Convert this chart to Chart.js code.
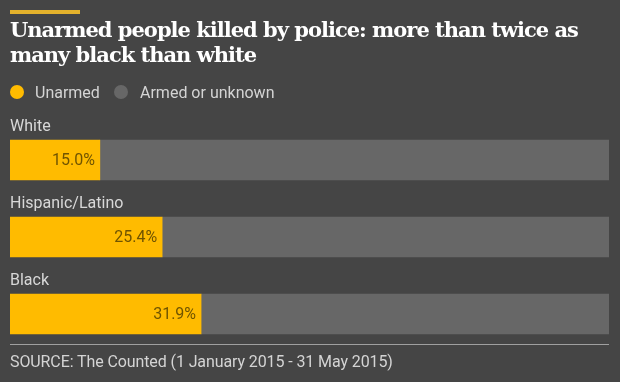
<!DOCTYPE html>
<html>
<head>
<meta charset="utf-8">
<script src="https://cdn.jsdelivr.net/npm/chart.js@4/dist/chart.umd.min.js"></script>
<style>
  html, body { margin: 0; padding: 0; }
  body { width: 620px; height: 382px; background: #454545; position: relative; overflow: hidden; font-family: Roboto, "Open Sans", sans-serif; }
  #accent { position: absolute; left: 10px; top: 10px; width: 70px; height: 4px; background: #e4b22c; }
  #title { position: absolute; left: 10px; top: 17px; width: 610px; font: bold 21px "DejaVu Serif", serif; letter-spacing: -1px; line-height: 25px; color: #ffffff; white-space: nowrap; }
  .dot { position: absolute; top: 85px; width: 14px; height: 14px; border-radius: 50%; }
  .leg { position: absolute; top: 83px; font-size: 16px; line-height: 20px; color: #d4d4d4; white-space: nowrap; }
  #rule { position: absolute; left: 10px; top: 344px; width: 599px; height: 1px; background: #a0a0a0; }
  #source { position: absolute; left: 10px; top: 352px; font-size: 16px; line-height: 20px; color: #d4d4d4; white-space: nowrap; letter-spacing: -0.1px; }
  canvas { position: absolute; left: 0; top: 0; }
</style>
</head>
<body>
<canvas id="c" width="620" height="382"></canvas>
<div id="accent"></div>
<div id="title">Unarmed people killed by police: more than twice as<br>many black than white</div>
<div class="dot" style="left:10px;background:#ffbb00"></div>
<div class="leg" style="left:35px">Unarmed</div>
<div class="dot" style="left:114px;background:#676767"></div>
<div class="leg" style="left:140px">Armed or unknown</div>
<div id="rule"></div>
<div id="source">SOURCE: The Counted (1 January 2015 - 31 May 2015)</div>
<script>
const categories = ["White", "Hispanic/Latino", "Black"];
const unarmed = [15.0, 25.4, 31.9];
const armedOrUnknown = [85.0, 74.6, 68.1];
const valueLabels = ["15.0%", "25.4%", "31.9%"];

const labelPlugin = {
  id: 'labels',
  afterDatasetsDraw(chart) {
    const ctx = chart.ctx;
    const xs = chart.scales.x, ys = chart.scales.y;
    ctx.save();
    ctx.font = '16px Roboto, "Open Sans", sans-serif';
    categories.forEach((cat, i) => {
      const cy = ys.getPixelForValue(i);
      ctx.fillStyle = '#d8d8d8';
      ctx.textAlign = 'left';
      ctx.textBaseline = 'alphabetic';
      ctx.fillText(cat, xs.left, cy - 29);
      ctx.fillStyle = '#705400';
      ctx.textAlign = 'right';
      ctx.textBaseline = 'middle';
      ctx.fillText(valueLabels[i], xs.getPixelForValue(unarmed[i]) - 5, cy + 1);
    });
    ctx.restore();
  }
};

new Chart(document.getElementById('c'), {
  type: 'bar',
  data: {
    labels: categories,
    datasets: [
      { label: 'Unarmed', data: unarmed, backgroundColor: '#ffbb00', borderWidth: 0, barThickness: 40 },
      { label: 'Armed or unknown', data: armedOrUnknown, backgroundColor: '#676767', borderWidth: 0, barThickness: 40 }
    ]
  },
  options: {
    indexAxis: 'y',
    responsive: false,
    animation: false,
    layout: { padding: { left: 10, right: 11, top: 121.5, bottom: 29.5 } },
    plugins: { legend: { display: false }, tooltip: { enabled: false } },
    scales: {
      x: { stacked: true, min: 0, max: 100, display: false },
      y: { stacked: true, display: false }
    }
  },
  plugins: [labelPlugin]
});
</script>
</body>
</html>
